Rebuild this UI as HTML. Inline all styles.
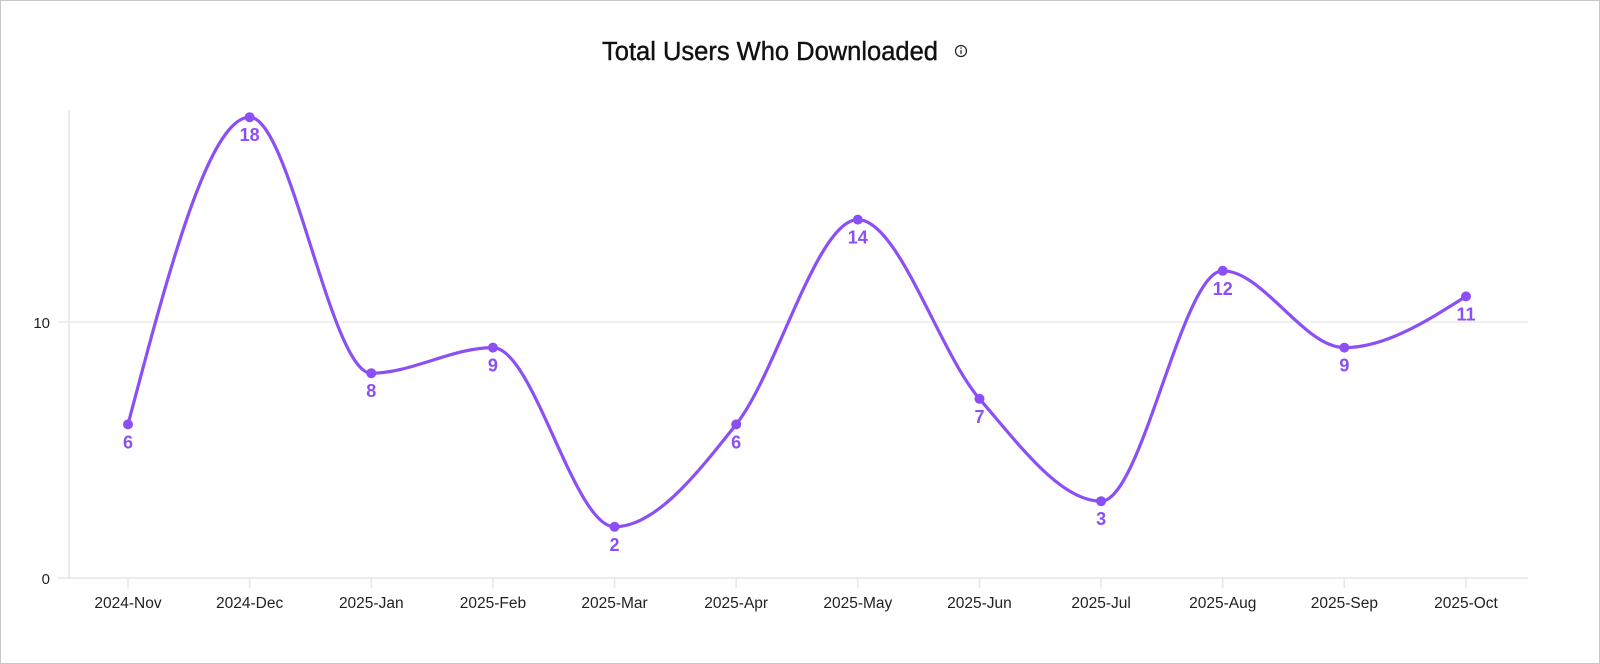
<!DOCTYPE html>
<html><head><meta charset="utf-8"><style>
html,body{margin:0;padding:0;background:#fff;}
body{width:1600px;height:664px;overflow:hidden;}
.box{position:absolute;left:0;top:0;width:1598px;height:662px;border:1px solid #c8c8c8;}
svg{position:absolute;left:0;top:0;}
text{font-family:"Liberation Sans",sans-serif;}
</style></head><body>
<div class="box"></div>
<svg id="s" width="1600" height="664" xmlns="http://www.w3.org/2000/svg">
<text x="770" y="60" text-anchor="middle" font-size="25.5" fill="#111" stroke="#111" stroke-width="0.4">Total Users Who Downloaded</text>
<circle cx="961" cy="51" r="5.5" fill="none" stroke="#222" stroke-width="1.2"/>
<line x1="961" y1="50" x2="961" y2="54" stroke="#222" stroke-width="1.2"/>
<circle cx="961" cy="48" r="0.8" fill="#222"/>
<line x1="69" y1="110" x2="69" y2="578" stroke="#e6e6e6" stroke-width="1.5"/>
<line x1="58" y1="322" x2="1528" y2="322" stroke="#ececec" stroke-width="1.5"/>
<line x1="58" y1="578" x2="1528" y2="578" stroke="#e6e6e6" stroke-width="1.5"/>
<text x="50" y="328" text-anchor="end" font-size="15" fill="#222">10</text>
<text x="50" y="584" text-anchor="end" font-size="15" fill="#222">0</text>
<g id="g"></g>
</svg>
<script>
var v=[6,18,8,9,2,6,14,7,3,12,9,11];
var lab=["2024-Nov","2024-Dec","2025-Jan","2025-Feb","2025-Mar","2025-Apr","2025-May","2025-Jun","2025-Jul","2025-Aug","2025-Sep","2025-Oct"];
var X=function(i){return 128+i*121.636;},Y=function(d){return 578-d*25.6;};
var px=v.map(function(d,i){return X(i)}),py=v.map(Y),n=v.length;
var s=[],m=[];for(var i=0;i<n-1;i++)s.push((py[i+1]-py[i])/(px[i+1]-px[i]));
for(i=0;i<n;i++){if(i==0)m.push(s[0]);else if(i==n-1)m.push(s[n-2]);else{var a=s[i-1],b=s[i];if(a*b<=0)m.push(0);else{var h0=px[i]-px[i-1],h1=px[i+1]-px[i];var p=(a*h1+b*h0)/(h0+h1);m.push((Math.sign(a)+Math.sign(b))*Math.min(Math.abs(a),Math.abs(b),0.5*Math.abs(p)));}}}
m[0]=(3*s[0]-m[1])/2;m[n-1]=(3*s[n-2]-m[n-2])/2;
var d="M"+px[0]+","+py[0];
for(i=0;i<n-1;i++){var dx=(px[i+1]-px[i])/3;d+="C"+(px[i]+dx)+","+(py[i]+dx*m[i])+" "+(px[i+1]-dx)+","+(py[i+1]-dx*m[i+1])+" "+px[i+1]+","+py[i+1];}
var g=document.getElementById("g"),o='<path d="'+d+'" fill="none" stroke="#8b4ff5" stroke-width="3.2"/>';
for(i=0;i<n;i++){o+='<circle cx="'+px[i]+'" cy="'+py[i]+'" r="5" fill="#8b4ff5"/>';
o+='<text x="'+px[i]+'" y="'+(py[i]+24)+'" text-anchor="middle" font-size="18" font-weight="bold" fill="#8b4ff5">'+v[i]+'</text>';
o+='<line x1="'+px[i]+'" y1="578" x2="'+px[i]+'" y2="588" stroke="#e6e6e6" stroke-width="1.5"/>';
o+='<text x="'+px[i]+'" y="608" text-anchor="middle" font-size="15.5" fill="#222">'+lab[i]+'</text>';}
g.innerHTML=o;
</script>
</body></html>
